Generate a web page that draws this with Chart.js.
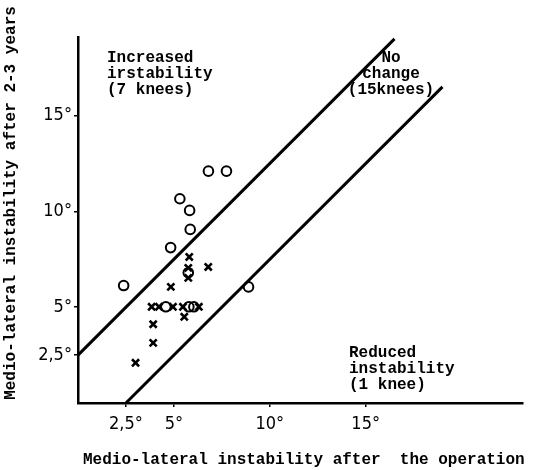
<!DOCTYPE html>
<html>
<head>
<meta charset="utf-8">
<script src="https://cdn.jsdelivr.net/npm/chart.js@4/dist/chart.umd.min.js"></script>
<style>
  html, body { margin: 0; padding: 0; background: #fff; }
  canvas { display: block; }
</style>
</head>
<body>
<canvas id="chart" width="538" height="470"></canvas>
<script>
// Knees plotted as circles
const circleX = [6.8, 7.74, 5.31, 5.82, 5.85, 4.83, 2.38, 8.89, 5.75, 4.58, 5.78, 6.04];
const circleY = [12.1, 12.1, 10.66, 10.05, 9.06, 8.11, 6.13, 6.06, 6.8, 5.02, 5.02, 5.02];

// Knees plotted as crosses
const crossX = [5.8, 5.75, 5.75, 6.79, 4.84, 3.84, 4.22, 4.95, 5.47, 6.3, 5.54, 3.92, 3.92, 3.0];
const crossY = [7.62, 7.05, 6.53, 7.1, 6.06, 5.02, 5.02, 5.02, 5.02, 5.02, 4.5, 4.11, 3.14, 2.1];

// "No change" band borders
const upperLineX = [0, 16.5];
const upperLineY = [2.5, 19];
const lowerLineX = [2.5, 19];
const lowerLineY = [0, 16.5];

// Axis ticks
const xTicks = [2.5, 5, 10, 15];
const yTicks = [2.5, 5, 10, 15];
const xMax = 23.2;
const yMax = 19.1;

const xTitle = 'Medio-lateral instability after  the operation';
const yTitle = 'Medio-lateral instability after 2-3 years';

const toXY = (xs, ys) => xs.map((x, i) => ({ x, y: ys[i] }));
const degLabel = v => String(v).replace('.', ',') + '°';

const monoFont = 'bold 16px "Liberation Mono", "DejaVu Sans Mono", monospace';

// Axis titles and region notes
const notesPlugin = {
  id: 'notes',
  afterDraw(chart) {
    const ctx = chart.ctx;
    ctx.save();
    ctx.fillStyle = '#000';
    ctx.font = monoFont;
    ctx.textBaseline = 'middle';

    ctx.textAlign = 'left';
    ['Increased', 'irstability', '(7 knees)'].forEach((t, i) => ctx.fillText(t, 107, 58 + i * 16));
    ['Reduced', 'instability', '(1 knee)'].forEach((t, i) => ctx.fillText(t, 349, 353 + i * 16));

    ctx.textAlign = 'center';
    ['No', 'change', '(15knees)'].forEach((t, i) => ctx.fillText(t, 391, 58 + i * 16));

    ctx.textAlign = 'left';
    ctx.fillText(xTitle, 83, 460);

    ctx.translate(11, 203);
    ctx.rotate(-Math.PI / 2);
    ctx.textAlign = 'center';
    ctx.fillText(yTitle, 0, 0);
    ctx.restore();
  }
};

const tickFont = { family: '"DejaVu Sans Condensed", "Liberation Sans Narrow", sans-serif', size: 18 };

new Chart(document.getElementById('chart'), {
  type: 'scatter',
  data: {
    datasets: [
      {
        data: toXY(upperLineX, upperLineY),
        showLine: true,
        borderColor: '#000',
        borderWidth: 3,
        pointRadius: 0,
        clip: false
      },
      {
        data: toXY(lowerLineX, lowerLineY),
        showLine: true,
        borderColor: '#000',
        borderWidth: 3,
        pointRadius: 0,
        clip: false
      },
      {
        data: toXY(circleX, circleY),
        pointStyle: 'circle',
        pointRadius: 4.8,
        borderWidth: 2,
        borderColor: '#000',
        backgroundColor: 'rgba(255,255,255,0)'
      },
      {
        data: toXY(crossX, crossY),
        pointStyle: 'crossRot',
        pointRadius: 5,
        borderWidth: 2.6,
        borderColor: '#000'
      }
    ]
  },
  options: {
    responsive: false,
    animation: false,
    layout: { padding: { top: 37, right: 15, bottom: 0, left: 0 } },
    plugins: { legend: { display: false }, tooltip: { enabled: false } },
    scales: {
      x: {
        type: 'linear',
        min: 0,
        max: xMax,
        afterBuildTicks: s => { s.ticks = xTicks.map(v => ({ value: v })); },
        afterFit: s => { s.height = 67; },
        grid: { drawOnChartArea: false, drawTicks: true, tickLength: 4, color: '#000', lineWidth: 1.5 },
        border: { display: true, color: '#000', width: 2.5 },
        ticks: { color: '#000', font: tickFont, padding: 7, maxRotation: 0, callback: degLabel }
      },
      y: {
        type: 'linear',
        min: 0,
        max: yMax,
        afterBuildTicks: s => { s.ticks = yTicks.map(v => ({ value: v })); },
        afterFit: s => { s.width = 78; },
        grid: { drawOnChartArea: false, drawTicks: true, tickLength: 4, color: '#000', lineWidth: 1.5 },
        border: { display: true, color: '#000', width: 2.5 },
        ticks: { color: '#000', font: tickFont, padding: 2, callback: degLabel }
      }
    }
  },
  plugins: [notesPlugin]
});
</script>
</body>
</html>
